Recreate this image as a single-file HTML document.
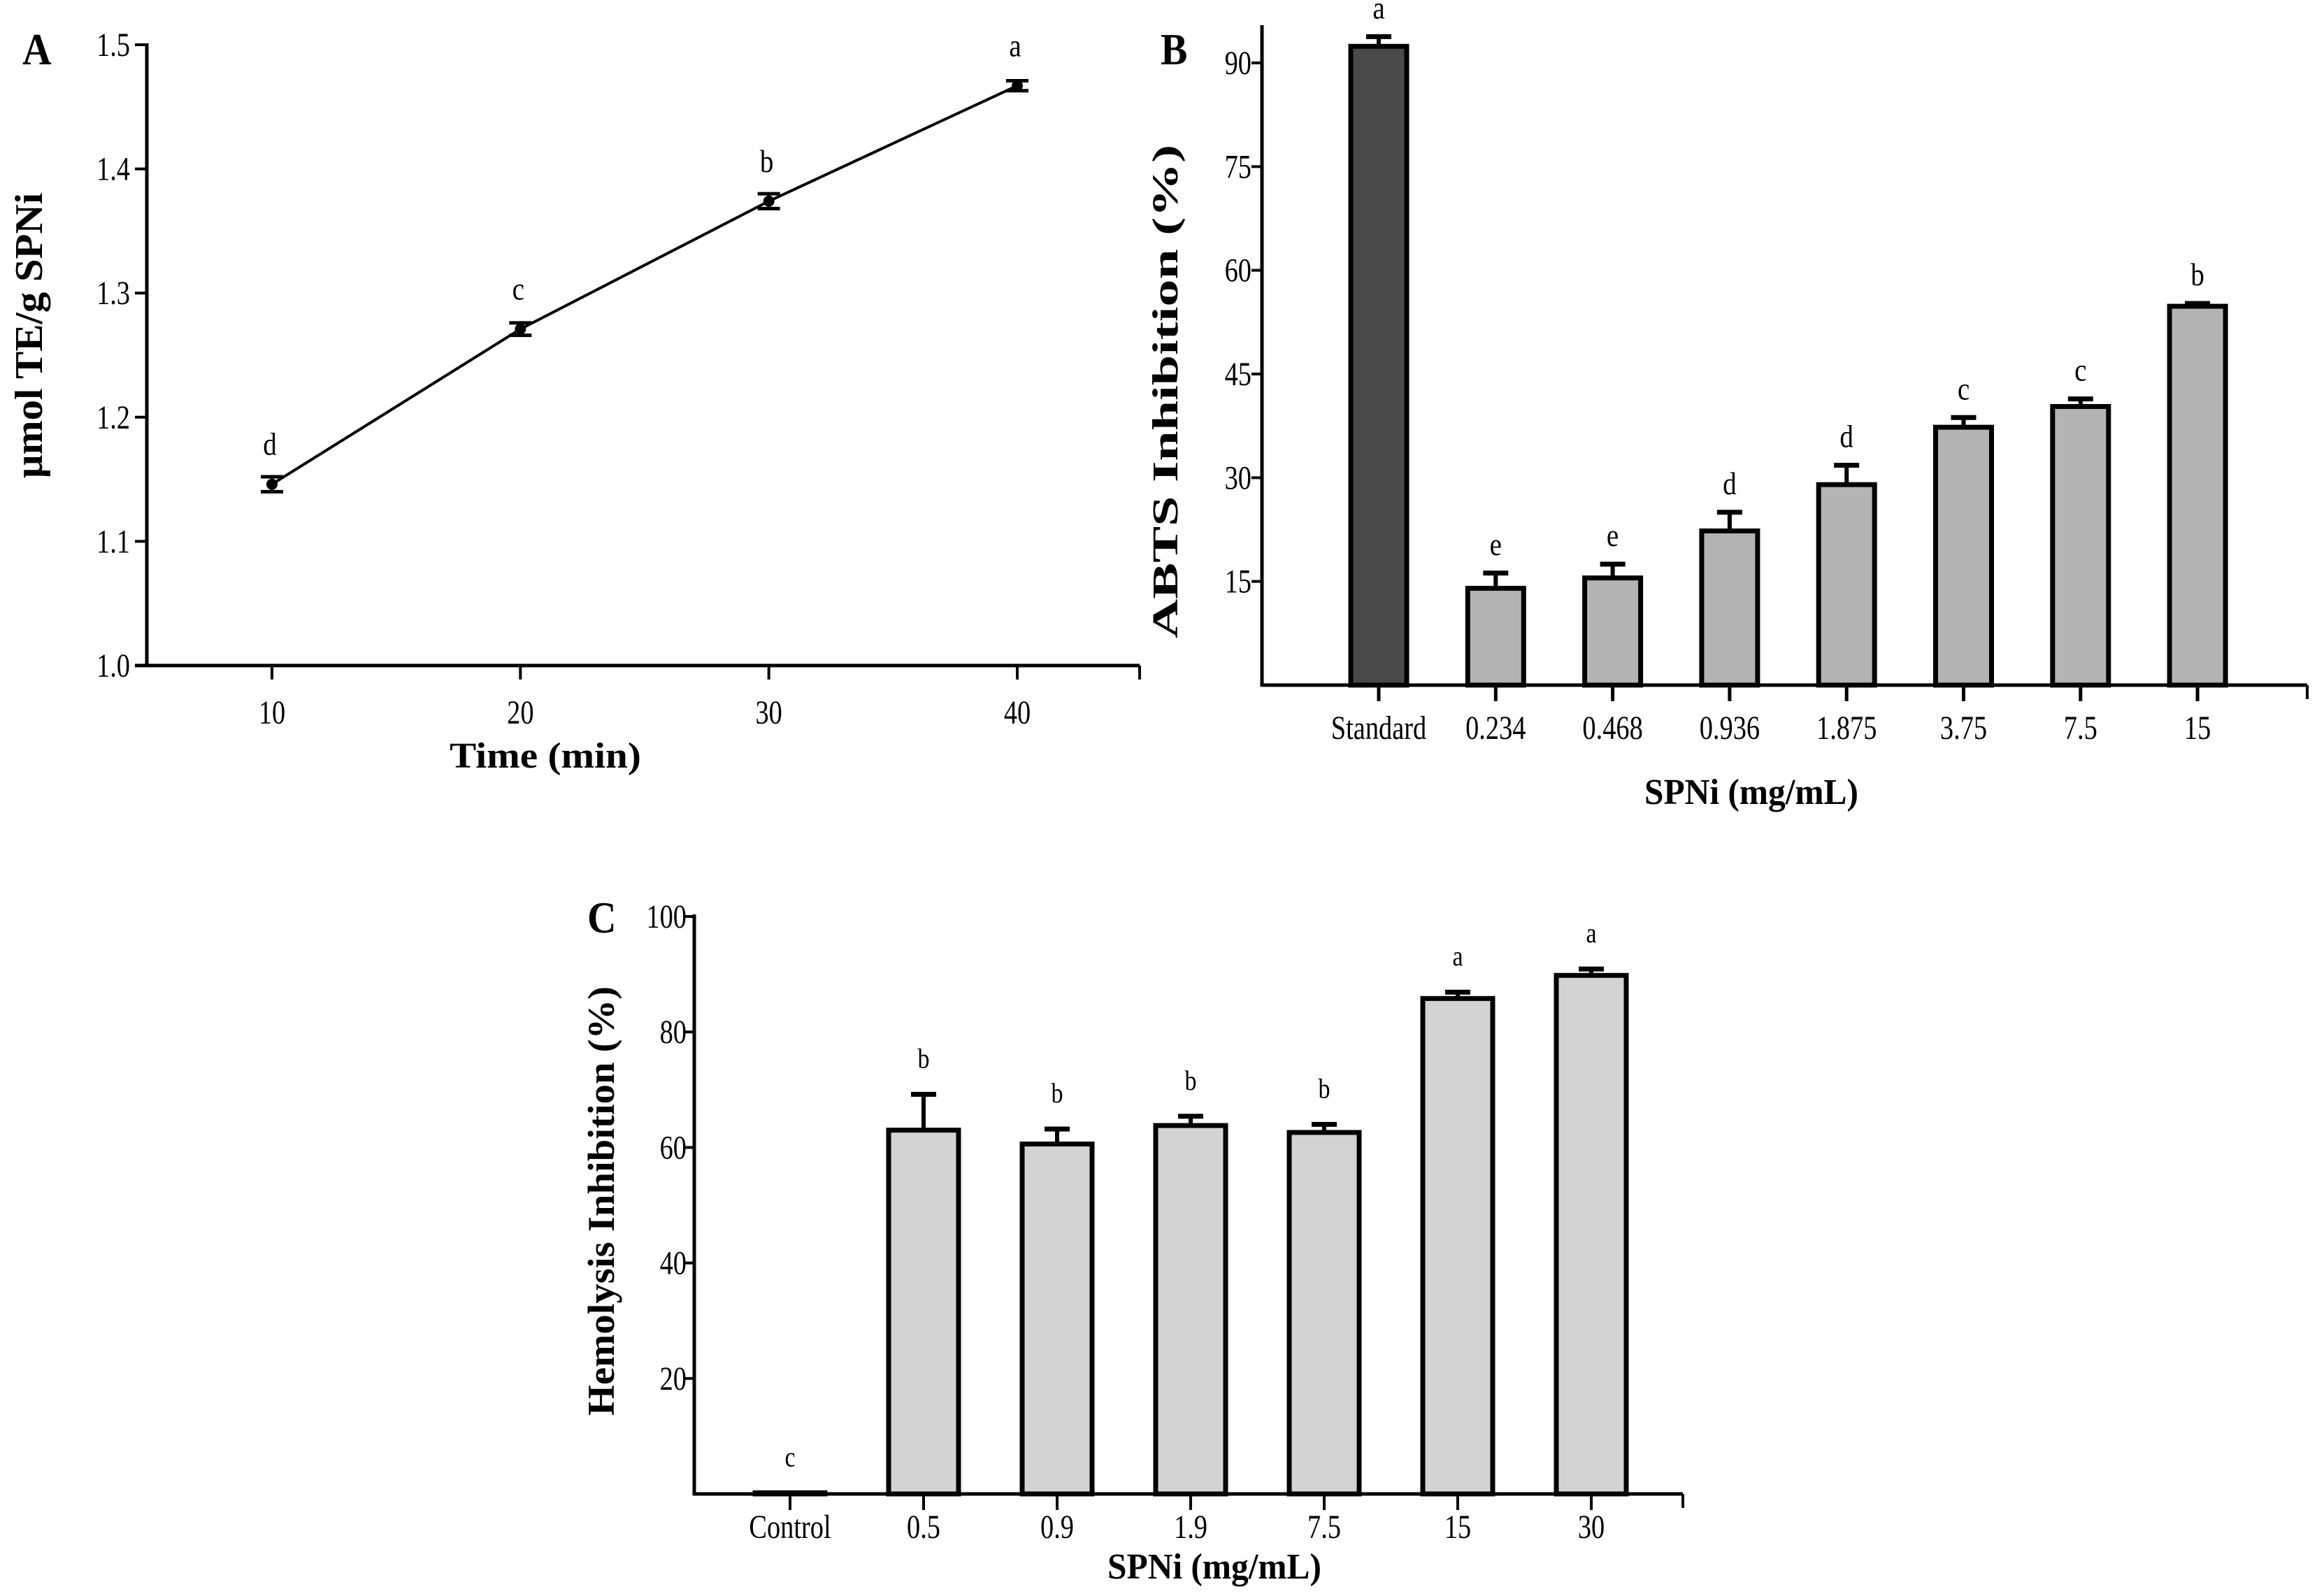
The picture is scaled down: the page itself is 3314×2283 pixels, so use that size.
<!DOCTYPE html>
<html><head><meta charset="utf-8"><style>
html,body{margin:0;padding:0;background:#fff}
svg{display:block}
text{font-family:"Liberation Serif",serif;fill:#000}
</style></head><body>
<svg id="fig" width="3314" height="2283" viewBox="0 0 3314 2283" xmlns="http://www.w3.org/2000/svg"></svg>
<script>
// Panel A data
const aTimes = [10, 20, 30, 40];
const aValues = [1.146, 1.271, 1.374, 1.467];
const aErrors = [0.006, 0.005, 0.006, 0.004];
const aLetters = ['d', 'c', 'b', 'a'];
const aYTicks = [1.0, 1.1, 1.2, 1.3, 1.4, 1.5];
const aYTickLabels = ['1.0', '1.1', '1.2', '1.3', '1.4', '1.5'];
// Panel B data
const bCategories = ['Standard', '0.234', '0.468', '0.936', '1.875', '3.75', '7.5', '15'];
const bValues = [92.4, 14.0, 15.5, 22.3, 29.0, 37.3, 40.3, 54.8];
const bErrors = [1.4, 2.2, 2.0, 2.7, 2.8, 1.4, 1.1, 0.4];
const bLetters = ['a', 'e', 'e', 'd', 'd', 'c', 'c', 'b'];
const bYTicks = [15, 30, 45, 60, 75, 90];
// Panel C data
const cCategories = ['Control', '0.5', '0.9', '1.9', '7.5', '15', '30'];
const cValues = [0.2, 63.0, 60.6, 63.8, 62.6, 85.8, 89.8];
const cErrors = [0, 6.2, 2.6, 1.6, 1.4, 1.1, 1.1];
const cLetters = ['c', 'b', 'b', 'b', 'b', 'a', 'a'];
const cYTicks = [20, 40, 60, 80, 100];

const NS = 'http://www.w3.org/2000/svg';
const svg = document.getElementById('fig');
function mk(tag, attrs, parent, txt) {
  const e = document.createElementNS(NS, tag);
  for (const k in attrs) e.setAttribute(k, attrs[k]);
  if (txt !== undefined) e.textContent = txt;
  (parent || svg).appendChild(e);
  return e;
}
function line(x1, y1, x2, y2, w, p) { return mk('line', {x1, y1, x2, y2, stroke: '#000', 'stroke-width': w}, p); }
function txt(p, x, y, size, anchor, s, bold, rot, sx) {
  const tr = 'translate(' + x + ',' + y + ')' + (rot ? ' rotate(-90)' : '') + ' scale(' + (sx || 0.8) + ',1)';
  return mk('text', {x: 0, y: 0, 'font-size': size, 'text-anchor': anchor, 'font-weight': bold ? 'bold' : 'normal', transform: tr}, p, s);
}

// ---------- Panel A ----------
const gA = mk('g', {});


const ax = t => 389 + (t - 10) * (1455 - 389) / 30;
const ay = v => 952 - (v - 1.0) * (952 - 64) / 0.5;
line(210, 62, 210, 954, 5, gA);
line(193, 952, 1630, 952, 5, gA);
line(1630, 952, 1630, 972, 4, gA);
aYTicks.forEach((v, i) => {
  line(193, ay(v), 210, ay(v), 4, gA);
  const t = txt(gA, 186, ay(v) + 16, 48, 'end', aYTickLabels[i]);
  
  
});
aTimes.forEach(t => {
  line(ax(t), 952, ax(t), 972, 4, gA);
  const e = txt(gA, ax(t), 1035, 48, 'middle', String(t));
  
  
});
let pts = aTimes.map((t, i) => ax(t) + ',' + ay(aValues[i])).join(' ');
const pl = mk('polyline', {points: pts, fill: 'none', stroke: '#000', 'stroke-width': 4}, gA);


aTimes.forEach((t, i) => {
  const x = ax(t), y = ay(aValues[i]), e1 = ay(aValues[i] + aErrors[i]), e2 = ay(aValues[i] - aErrors[i]);
  line(x, e1, x, e2, 4, gA);
  line(x - 16, e1, x + 16, e1, 5, gA);
  line(x - 16, e2, x + 16, e2, 5, gA);
  const c = mk('circle', {cx: x, cy: y, r: 8, fill: '#000'}, gA);
  
  
  const l = txt(gA, x - 3, y - 42, 46, 'middle', aLetters[i], false, false, 0.85);
  
  
});
let e;
e = txt(gA, 60, 480, 56, 'middle', 'µmol TE/g  SPNi', true, true, 1.05);
 
e = txt(gA, 780, 1098, 52, 'middle', 'Time (min)', true, false, 1.1);
 
e = txt(gA, 32, 92, 64, 'start', 'A', true, false, 0.9);
 

// ---------- Panel B ----------
const gB = mk('g', {});


const bx = i => 1972 + i * 167.3;
const by = v => 980 - v * (980 - 90) / 90;
const bw = 80;
bCategories.forEach((c, i) => {
  const x = bx(i), top = by(bValues[i]), et = by(bValues[i] + bErrors[i]);
  line(x, top, x, et, 6, gB);
  line(x - 18, et, x + 18, et, 7, gB);
  const r = mk('rect', {x: x - bw / 2, y: top, width: bw, height: 980 - top, fill: i === 0 ? '#494949' : '#b3b3b3', stroke: '#000', 'stroke-width': 7}, gB);
  
  
  line(x, 980, x, 1003, 5, gB);
  const t = txt(gB, x, 1057, 48, 'middle', c);
  
  
  const l = txt(gB, x, et - 26, 46, 'middle', bLetters[i], false, false, 0.85);
  
  
});
line(1805, 36, 1805, 982, 5, gB);
line(1803, 980, 3300, 980, 5, gB);
line(3300, 980, 3300, 1000, 4, gB);
bYTicks.forEach(v => {
  line(1790, by(v), 1805, by(v), 4, gB);
  const t = txt(gB, 1790, by(v) + 16, 48, 'end', String(v));
  
  
});
e = txt(gB, 1684, 560, 52, 'middle', 'ABTS  Inhibition (%)', true, true, 1.5);
 
e = txt(gB, 2505, 1150, 52, 'middle', 'SPNi (mg/mL)', true, false, 0.95);
 
e = txt(gB, 1660, 92, 64, 'start', 'B', true, false, 0.9);
 

// ---------- Panel C ----------
const gC = mk('g', {});


const cx = i => 1130 + i * 191;
const cy = v => 2137 - v * (2137 - 1311) / 100;
const cw = 100;
cCategories.forEach((c, i) => {
  const x = cx(i), top = cy(cValues[i]), et = cy(cValues[i] + cErrors[i]);
  if (cErrors[i] > 0) {
    line(x, top, x, et, 6, gC);
    line(x - 18, et, x + 18, et, 7, gC);
  }
  const r = mk('rect', {x: x - cw / 2, y: top, width: cw, height: 2137 - top, fill: '#d3d3d3', stroke: '#000', 'stroke-width': 7}, gC);
  
  
  line(x, 2137, x, 2160, 4, gC);
  const t = txt(gC, x, 2200, 48, 'middle', c);
  
  
  const l = txt(gC, x, et - 38, 40, 'middle', cLetters[i], false, false, 0.85);
  
  
});
line(993, 1308, 993, 2139, 5, gC);
line(991, 2137, 2407, 2137, 5, gC);
line(2407, 2137, 2407, 2157, 4, gC);
cYTicks.forEach(v => {
  line(980, cy(v), 993, cy(v), 4, gC);
  const t = txt(gC, 982, cy(v) + 16, 48, 'end', String(v));
  
  
});
e = txt(gC, 878, 1718, 54, 'middle', 'Hemolysis  Inhibition (%)', true, true, 1.05);
 
e = txt(gC, 1737, 2258, 52, 'middle', 'SPNi (mg/mL)', true, false, 0.95);
 
e = txt(gC, 840, 1334, 64, 'start', 'C', true, false, 0.9);
 
</script>
</body></html>
